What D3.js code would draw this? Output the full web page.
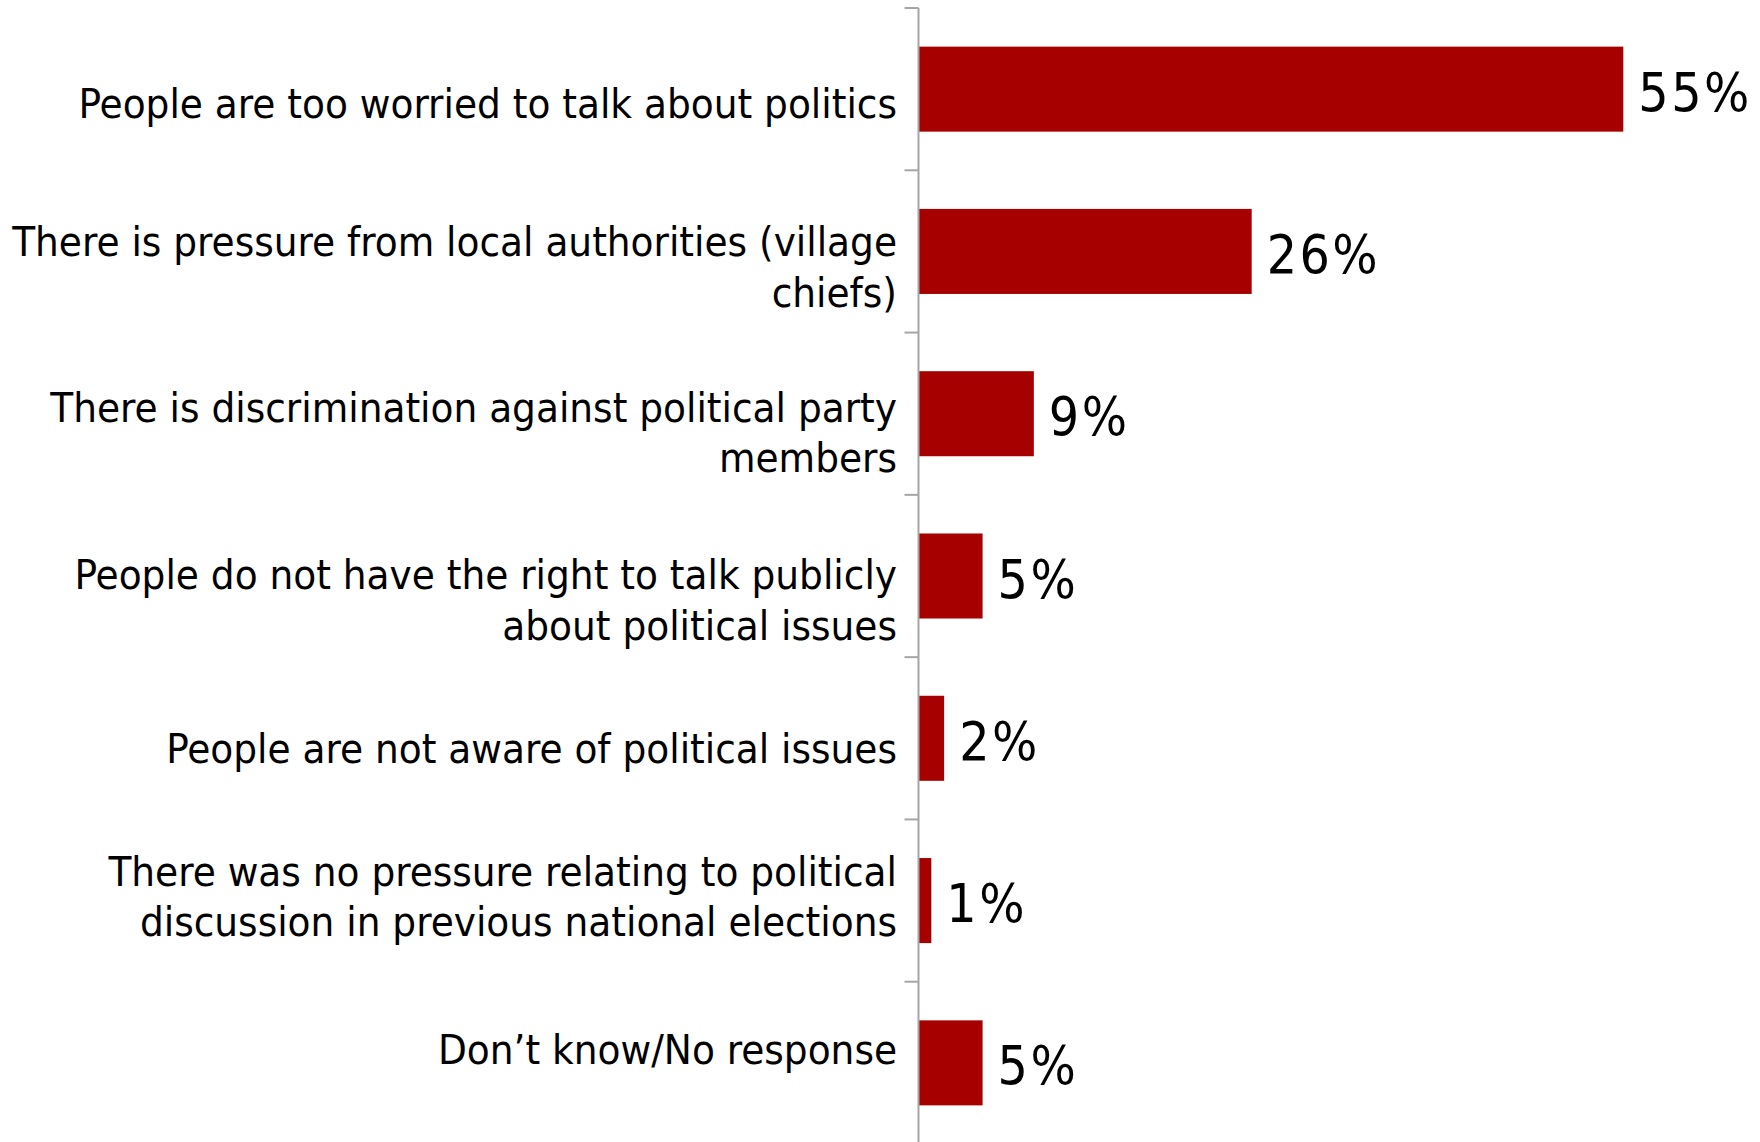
<!DOCTYPE html>
<html>
<head>
<meta charset="utf-8">
<script src="https://cdn.jsdelivr.net/npm/d3@7/dist/d3.min.js"></script>
<style>
  html, body { margin: 0; padding: 0; background: #ffffff; }
  svg { display: block; }
</style>
</head>
<body>
<svg id="chart" width="1760" height="1142"></svg>
<script>
// Reasons given for not discussing politics (share of respondents, %)
const categoryLines = [
  ["People are too worried to talk about politics"],
  ["There is pressure from local authorities (village", "chiefs)"],
  ["There is discrimination against political party", "members"],
  ["People do not have the right to talk publicly", "about political issues"],
  ["People are not aware of political issues"],
  ["There was no pressure relating to political", "discussion in previous national elections"],
  ["Don\u2019t know/No response"]
];
const categories = categoryLines.map(l => l.join(" "));
const values = [55, 26, 9, 5, 2, 1, 5];
const valueLabels = ["55%", "26%", "9%", "5%", "2%", "1%", "5%"];

// Layout
const W = 1760, H = 1142;
const axisX = 918.5;
const plotTop = 8, plotBottom = 1144;
const barColor = "#a60000";
const labelFont = "'DejaVu Sans Condensed', 'DejaVu Sans', sans-serif";
const lineGap = 50.5;
// vertical nudge of each category label block relative to its band centre
const labelNudge = [14, 15.5, 19, 24, 10, -4, -13];

const svg = d3.select("#chart");

const y = d3.scaleBand()
  .domain(categories)
  .range([plotTop, plotBottom])
  .paddingInner(0.476)
  .paddingOuter(0.238);

const x = d3.scaleLinear()
  .domain([0, 55])
  .range([axisX, 1623.3]);

// Bars
svg.append("g")
  .selectAll("rect")
  .data(categories)
  .join("rect")
  .attr("x", x(0))
  .attr("y", d => y(d))
  .attr("width", (d, i) => x(values[i]) - x(0))
  .attr("height", y.bandwidth())
  .attr("fill", barColor);

// Category axis with ticks on band boundaries
const axisG = svg.append("g").attr("class", "axis");
axisG.append("line")
  .attr("x1", axisX).attr("x2", axisX)
  .attr("y1", plotTop).attr("y2", plotBottom)
  .attr("stroke", "#a6a6a6").attr("stroke-width", 2);

const step = y.step();
const boundaries = d3.range(categories.length + 1).map(i => plotTop + i * step);
axisG.selectAll("line.tick")
  .data(boundaries)
  .join("line")
  .attr("class", "tick")
  .attr("x1", axisX - 14).attr("x2", axisX)
  .attr("y1", d => d).attr("y2", d => d)
  .attr("stroke", "#a6a6a6").attr("stroke-width", 2);

// Category labels, right-aligned against the axis
const labelG = svg.append("g")
  .attr("font-family", labelFont)
  .attr("font-size", 41.7)
  .attr("fill", "#000")
  .attr("text-anchor", "end");

categoryLines.forEach((lines, i) => {
  const cy = y(categories[i]) + y.bandwidth() / 2 + labelNudge[i];
  const firstBase = cy - (lines.length - 1) * lineGap / 2 + 14.5;
  const t = labelG.append("text");
  lines.forEach((ln, j) => {
    t.append("tspan")
      .attr("x", 897)
      .attr("y", firstBase + j * lineGap)
      .text(ln);
  });
});

// Value labels at the bar ends
svg.append("g")
  .attr("font-family", labelFont)
  .attr("font-size", 53)
  .attr("letter-spacing", 2.5)
  .attr("fill", "#000")
  .selectAll("text")
  .data(categories)
  .join("text")
  .attr("x", (d, i) => x(values[i]) + 15)
  .attr("y", d => y(d) + y.bandwidth() / 2 + 21.5)
  .text((d, i) => valueLabels[i]);
</script>
</body>
</html>
